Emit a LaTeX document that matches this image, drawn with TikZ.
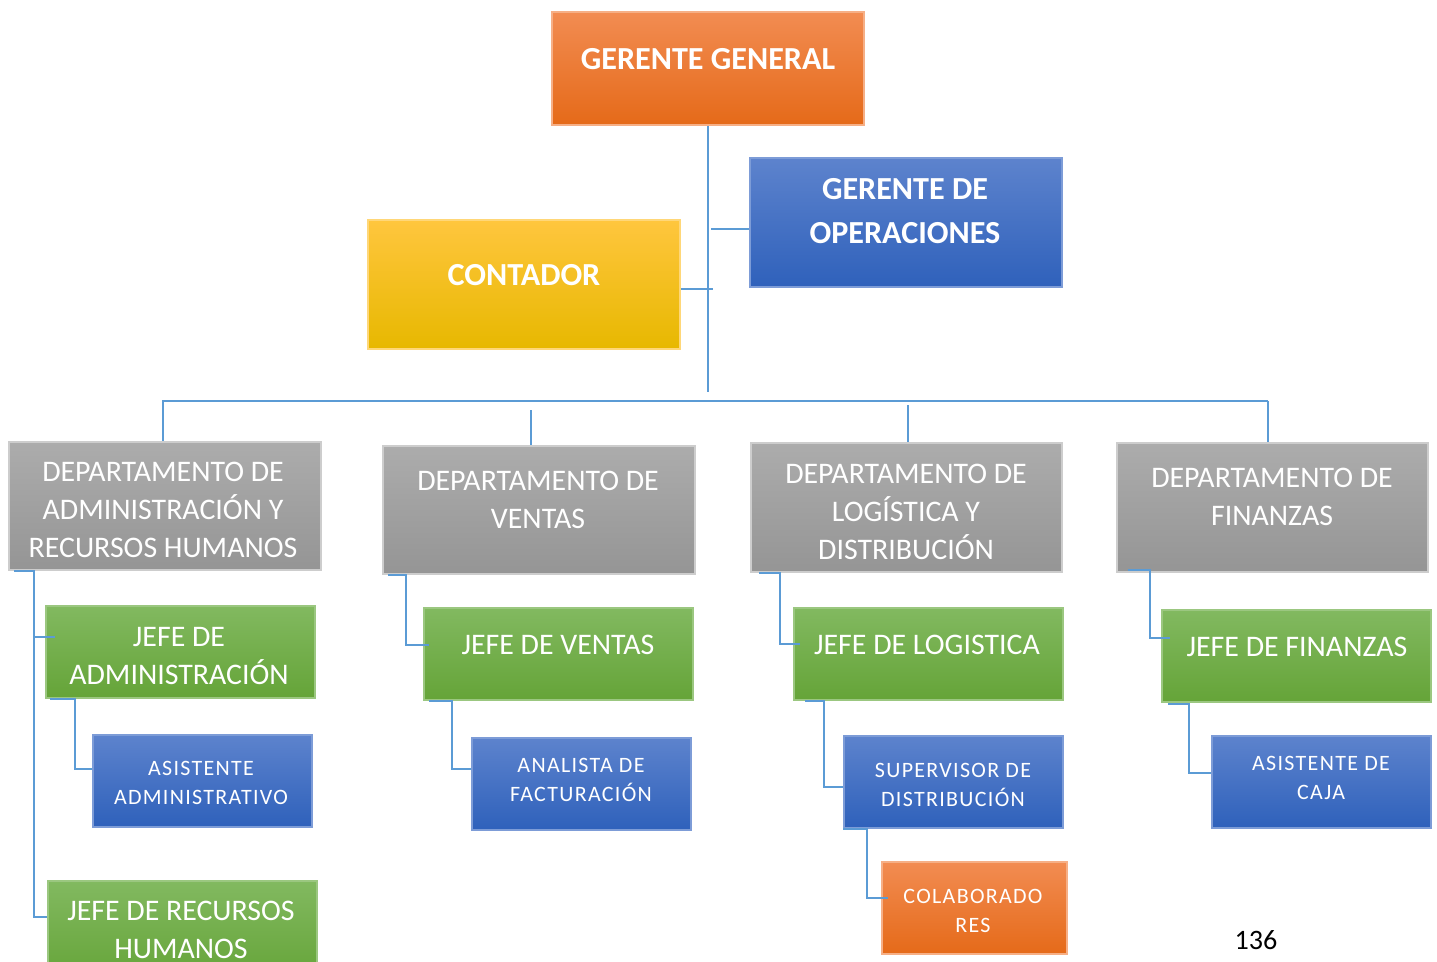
\documentclass[tikz,border=0pt]{standalone}
\usepackage{fontspec}
\setmainfont{Carlito}
\usetikzlibrary{calc}
\definecolor{LineBlue}{RGB}{91,155,213}
\definecolor{OrangeTop}{RGB}{242,140,82}
\definecolor{OrangeBot}{RGB}{229,106,25}
\definecolor{YellowTop}{RGB}{255,198,62}
\definecolor{YellowBot}{RGB}{231,184,0}
\definecolor{BlueTop}{RGB}{93,131,205}
\definecolor{BlueBot}{RGB}{47,97,187}
\definecolor{GreenTop}{RGB}{130,185,96}
\definecolor{GreenBot}{RGB}{101,164,56}
\definecolor{GrayTop}{RGB}{172,172,172}
\definecolor{GrayBot}{RGB}{149,149,149}

\begin{document}
\begin{tikzpicture}[x=0.02cm,y=-0.02cm,
  box/.style={rectangle,anchor=north west,inner sep=0pt,line width=1pt},
  orangebox/.style={box,top color=OrangeTop,bottom color=OrangeBot,draw=OrangeTop!70!white},
  yellowbox/.style={box,top color=YellowTop,bottom color=YellowBot,draw=YellowTop!70!white},
  bluebox/.style={box,top color=BlueTop,bottom color=BlueBot,draw=BlueTop!80!white},
  greenbox/.style={box,top color=GreenTop,bottom color=GreenBot,draw=GreenTop!80!white},
  graybox/.style={box,top color=GrayTop,bottom color=GrayBot,draw=GrayTop!60!white},
  head/.style={text=white,align=center,font=\fontsize{18.3}{25}\selectfont\bfseries},
  txt/.style={text=white,align=center,font=\fontsize{17}{21.5}\selectfont},
  small/.style={text=white,align=center,font=\fontsize{12.5}{17}\selectfont\addfontfeature{LetterSpace=6}},
  con/.style={LineBlue,line width=1.1pt}]
\def\unitpx{0.02cm}
\useasboundingbox (0,0) rectangle (1437,962);

\node[orangebox,minimum width=312*\unitpx,minimum height=113*\unitpx] (gg) at (551,11) {};
\node[bluebox,minimum width=312*\unitpx,minimum height=129*\unitpx] (op) at (749,157) {};
\node[yellowbox,minimum width=312*\unitpx,minimum height=129*\unitpx] (cont) at (367,219) {};

\node[graybox,minimum width=312*\unitpx,minimum height=128*\unitpx] (d1) at (8,441) {};
\node[graybox,minimum width=312*\unitpx,minimum height=128*\unitpx] (d2) at (382,445) {};
\node[graybox,minimum width=311*\unitpx,minimum height=129*\unitpx] (d3) at (750,442) {};
\node[graybox,minimum width=311*\unitpx,minimum height=129*\unitpx] (d4) at (1116,442) {};

\node[greenbox,minimum width=269*\unitpx,minimum height=92*\unitpx] (j1) at (45,605) {};
\node[greenbox,minimum width=269*\unitpx,minimum height=100*\unitpx] (j5) at (47,880) {};
\node[greenbox,minimum width=269*\unitpx,minimum height=92*\unitpx] (j2) at (423,607) {};
\node[greenbox,minimum width=269*\unitpx,minimum height=92*\unitpx] (j3) at (793,607) {};
\node[greenbox,minimum width=269*\unitpx,minimum height=92*\unitpx] (j4) at (1161,609) {};

\node[bluebox,minimum width=219*\unitpx,minimum height=92*\unitpx] (a1) at (92,734) {};
\node[bluebox,minimum width=219*\unitpx,minimum height=92*\unitpx] (a2) at (471,737) {};
\node[bluebox,minimum width=219*\unitpx,minimum height=92*\unitpx] (a3) at (843,735) {};
\node[bluebox,minimum width=219*\unitpx,minimum height=92*\unitpx] (a4) at (1211,735) {};
\node[orangebox,minimum width=185*\unitpx,minimum height=92*\unitpx] (col) at (881,861) {};

\node[head] (gg-t) at (708,59) {GERENTE GENERAL};
\node[head] (op-t) at (905,211) {GERENTE DE\\OPERACIONES};
\node[head] (cont-t) at (524,275) {CONTADOR};

\node[txt] (d1-t) at (163,510) {DEPARTAMENTO DE\\ADMINISTRACIÓN Y\\RECURSOS HUMANOS};
\node[txt] (d2-t) at (538,500) {DEPARTAMENTO DE\\VENTAS};
\node[txt] (d3-t) at (906,512) {DEPARTAMENTO DE\\LOGÍSTICA Y\\DISTRIBUCIÓN};
\node[txt] (d4-t) at (1272,497) {DEPARTAMENTO DE\\FINANZAS};

\node[txt] (j1-t) at (179,656) {JEFE DE\\ADMINISTRACIÓN};
\node[txt] (j5-t) at (181,930) {JEFE DE RECURSOS\\HUMANOS};
\node[txt] (j2-t) at (558,645) {JEFE DE VENTAS};
\node[txt] (j3-t) at (927,645) {JEFE DE LOGISTICA};
\node[txt] (j4-t) at (1297,647) {JEFE DE FINANZAS};

\node[small] (a1-t) at (201,783) {ASISTENTE\\ADMINISTRATIVO};
\node[small] (a2-t) at (581,780) {ANALISTA DE\\FACTURACIÓN};
\node[small] (a3-t) at (953,785) {SUPERVISOR DE\\DISTRIBUCIÓN};
\node[small] (a4-t) at (1321,778) {ASISTENTE DE\\CAJA};
\node[small] (col-t) at (973,911) {COLABORADO\\RES};

\node[font=\fontsize{16}{19}\selectfont] (page) at (1256,940) {136};

\coordinate (trunk) at (708,392);
\coordinate (busL) at (162,401);
\coordinate (busR) at (1268,401);

\draw[con] (gg.south) -- (gg.south |- trunk);
\draw[con] ($(op.north west)+(0,72)$) -- ++(-38,0);
\draw[con] ($(cont.north east)+(0,70)$) -- ++(32,0);
\draw[con] (busL) -- (busR);
\draw[con] ($(d1.north)+(-2,0)$) -- ++(0,-40);
\draw[con] ($(d2.north)+(-8,0)$) -- ++(0,-35);
\draw[con] ($(d3.north)+(2,0)$) -- ++(0,-37);
\draw[con] ($(d4.north)+(-4,0)$) -- ++(0,-41);

\draw[con] ($(d1.south west)+(6,0)$) -- ++(20,0) |- ($(j1.north west)+(10,32)$);
\draw[con] ($(d1.south west)+(26,0)$) |- ($(j5.north west)+(0,37)$);
\draw[con] ($(j1.south west)+(5,0)$) -- ++(25,0) |- ($(a1.north west)+(0,35)$);
\draw[con] ($(d2.south west)+(6,0)$) -- ++(18,0) |- ($(j2.north west)+(6,38)$);
\draw[con] ($(j2.south west)+(6,0)$) -- ++(23,0) |- ($(a2.north west)+(0,32)$);
\draw[con] ($(d3.south west)+(9,0)$) -- ++(21,0) |- ($(j3.north west)+(7,37)$);
\draw[con] ($(j3.south west)+(12,0)$) -- ++(19,0) |- ($(a3.north west)+(0,52)$);
\draw[con] ($(a3.south west)$) -- ++(24,0) |- ($(col.north west)+(7,37)$);
\draw[con] ($(d4.south west)+(12,-3)$) -- ++(22,0) |- ($(j4.north west)+(9,29)$);
\draw[con] ($(j4.south west)+(7,1)$) -- ++(21,0) |- ($(a4.north west)+(0,38)$);
\end{tikzpicture}
\end{document}
